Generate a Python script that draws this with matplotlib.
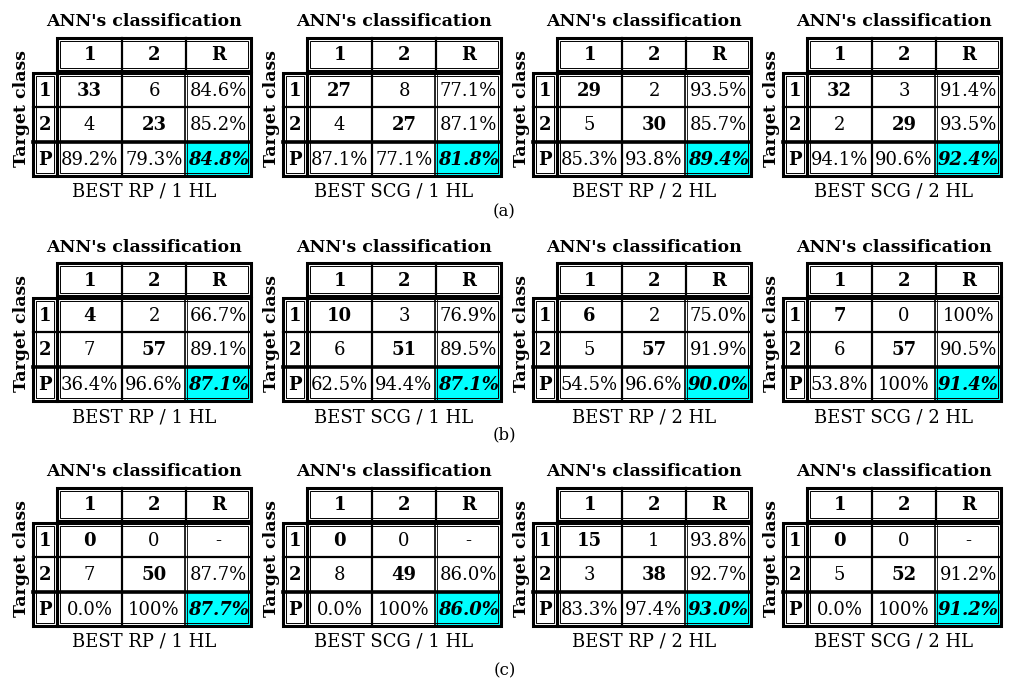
import numpy as np
import matplotlib
matplotlib.use('Agg')
from matplotlib import pyplot as plt
from matplotlib.patches import Rectangle

# データ
net_names = ["BEST RP / 1 HL", "BEST SCG / 1 HL", "BEST RP / 2 HL", "BEST SCG / 2 HL"]
group_names = ["(a)", "(b)", "(c)"]
col_names = ["1", "2", "R"]
row_names = ["1", "2", "P"]

counts_a = [[[33, 6], [4, 23]], [[27, 8], [4, 27]], [[29, 2], [5, 30]], [[32, 3], [2, 29]]]
counts_b = [[[4, 2], [7, 57]], [[10, 3], [6, 51]], [[6, 2], [5, 57]], [[7, 0], [6, 57]]]
counts_c = [[[0, 0], [7, 50]], [[0, 0], [8, 49]], [[15, 1], [3, 38]], [[0, 0], [5, 52]]]

recall_a = [[84.6, 85.2], [77.1, 87.1], [93.5, 85.7], [91.4, 93.5]]
recall_b = [[66.7, 89.1], [76.9, 89.5], [75.0, 91.9], [100, 90.5]]
recall_c = [[None, 87.7], [None, 86.0], [93.8, 92.7], [None, 91.2]]

precision_a = [[89.2, 79.3], [87.1, 77.1], [85.3, 93.8], [94.1, 90.6]]
precision_b = [[36.4, 96.6], [62.5, 94.4], [54.5, 96.6], [53.8, 100]]
precision_c = [[0.0, 100], [0.0, 100], [83.3, 97.4], [0.0, 100]]

overall_a = [84.8, 81.8, 89.4, 92.4]
overall_b = [87.1, 87.1, 90.0, 91.4]
overall_c = [87.7, 86.0, 93.0, 91.2]

counts = [counts_a, counts_b, counts_c]
recall = [recall_a, recall_b, recall_c]
precision = [precision_a, precision_b, precision_c]
overall = [overall_a, overall_b, overall_c]

# レイアウト (ピクセル)
W, H = 1009, 682
panel_x0 = [0, 250, 500, 750]
group_y0 = [22, 247, 472]
label_y = [212, 435, 671]
xe = [33, 57, 122, 186, 251]      # 列の境界
hdr_h = 33
row_h = 34.5

serif = 'DejaVu Serif'
plt.rcParams['font.family'] = serif

fig = plt.figure(figsize=(W / 100, H / 100), dpi=100)
ax = fig.add_axes([0, 0, 1, 1])
ax.set_xlim(0, W)
ax.set_ylim(H, 0)
ax.axis('off')


def pct(v):
    if v is None:
        return "-"
    if v == 100:
        return "100%"
    return "%.1f%%" % v


def dbl_box(x0, y0, x1, y1):
    # 二重罫線 (太線 + 細線)
    ax.add_patch(Rectangle((x0, y0), x1 - x0, y1 - y0, fill=False, ec='black', lw=2.2, zorder=5))
    ax.add_patch(Rectangle((x0 + 3, y0 + 3), x1 - x0 - 6, y1 - y0 - 6, fill=False, ec='black', lw=0.7, zorder=5))


for g in range(3):
    by = group_y0[g]
    for p in range(4):
        ox = panel_x0[p]
        x = [v + ox for v in xe]
        cx = [(x[i] + x[i + 1]) / 2 for i in range(4)]
        ht, hb = by + 16, by + 16 + hdr_h
        bt = hb + 1.5
        ry = [bt + row_h * i for i in range(4)]
        cy = [(ry[i] + ry[i + 1]) / 2 for i in range(3)]

        # タイトル
        ax.text((x[0] + x[4]) / 2 + 2, by, "ANN's classification", ha='center', va='center',
                fontsize=12.5, fontweight='bold')
        ax.text(x[0] - 11, (ry[0] + ry[3]) / 2 - 16, "Target class", ha='center', va='center',
                rotation=90, fontsize=12.5, fontweight='bold')
        ax.text((x[0] + x[4]) / 2 + 2, by + 170, net_names[p], ha='center', va='center',
                fontsize=13)

        # 水色セル
        ax.add_patch(Rectangle((x[3], ry[2]), x[4] - x[3], ry[3] - ry[2], fc='#00ffff', ec='none', zorder=1))

        # 罫線
        dbl_box(x[1], ht, x[4], hb)
        dbl_box(x[0], bt, x[1], ry[3])
        dbl_box(x[1], bt, x[4], ry[3])
        for i in (2, 3):
            ax.plot([x[i], x[i]], [ht, hb], color='black', lw=1.6, zorder=4)
        ax.plot([x[2], x[2]], [bt, ry[3]], color='black', lw=1.6, zorder=4)
        ax.plot([x[3] - 1.2, x[3] - 1.2], [bt, ry[3]], color='black', lw=1.2, zorder=4)
        ax.plot([x[3] + 1.2, x[3] + 1.2], [bt, ry[3]], color='black', lw=0.6, zorder=4)
        ax.plot([x[0], x[4]], [ry[1], ry[1]], color='black', lw=1.6, zorder=4)
        ax.plot([x[0], x[4]], [ry[2], ry[2]], color='black', lw=2.6, zorder=4)

        # 見出し
        for j in range(3):
            ax.text(cx[j + 1], (ht + hb) / 2 + 1, col_names[j], ha='center', va='center',
                    fontsize=13, fontweight='bold')
            ax.text(cx[0], cy[j] + 1, row_names[j], ha='center', va='center',
                    fontsize=13, fontweight='bold')

        # 数値
        c = counts[g][p]
        for i in range(2):
            for j in range(2):
                ax.text(cx[j + 1], cy[i] + 1, str(c[i][j]), ha='center', va='center', fontsize=13,
                        fontweight='bold' if i == j else 'normal')
            ax.text(cx[3], cy[i] + 1, pct(recall[g][p][i]), ha='center', va='center', fontsize=13)
            ax.text(cx[i + 1], cy[2] + 1, pct(precision[g][p][i]), ha='center', va='center', fontsize=13)
        ax.text(cx[3], cy[2] + 1, pct(overall[g][p]), ha='center', va='center', fontsize=13,
                fontweight='bold', style='italic')

    ax.text(W / 2, label_y[g], group_names[g], ha='center', va='center', fontsize=12)

fig.savefig('out.png', dpi=100)
